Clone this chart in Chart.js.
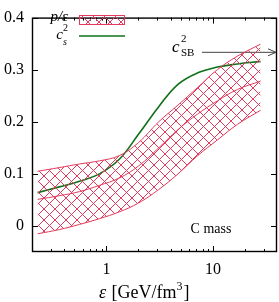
<!DOCTYPE html>
<html>
<head>
<meta charset="utf-8">
<script src="https://cdn.jsdelivr.net/npm/chart.js@4.4.1/dist/chart.umd.min.js"></script>
<style>
  html, body { margin: 0; padding: 0; background: #fff; }
  #wrap { width: 279px; height: 302px; }
</style>
</head>
<body>
<div id="wrap"><canvas id="cs-chart"></canvas></div>
<script>
// energy density grid (GeV/fm^3) shared by the band and the sound speed curve
const epsGrid = [0.226, 0.36, 0.56, 0.86, 1.32, 2.0, 3.1, 4.7, 7.2, 11, 17, 28];
// p/eps band: upper edge, lower edge and inner edge
const pUpper = [0.105, 0.112, 0.119, 0.125, 0.135, 0.160, 0.200, 0.232, 0.266, 0.300, 0.326, 0.349];
const pLower = [-0.015, -0.007, 0.003, 0.014, 0.027, 0.044, 0.070, 0.100, 0.135, 0.165, 0.195, 0.222];
const pMid   = [0.051, 0.058, 0.066, 0.078, 0.092, 0.115, 0.150, 0.185, 0.215, 0.240, 0.262, 0.278];
// squared speed of sound
const cs2    = [0.064, 0.075, 0.086, 0.100, 0.128, 0.176, 0.229, 0.272, 0.294, 0.305, 0.311, 0.316];
// Stefan-Boltzmann limit arrow
const sbEps = [7.9, 40];
const sbValue = 1 / 3;

const yTicks = [0, 0.1, 0.2, 0.3, 0.4];
const xTicks = [1, 10];
const xMinor = [0.3, 0.4, 0.5, 0.6, 0.7, 0.8, 0.9, 2, 3, 4, 5, 6, 7, 8, 9, 20, 30];

const pink = '#e23a5c';
const green = '#11701a';
const serif = "'Liberation Serif', 'DejaVu Serif', serif";

// cross hatch pattern
function hatch() {
    const c = document.createElement('canvas');
    c.width = 11; c.height = 11;
    const g = c.getContext('2d');
    g.strokeStyle = pink;
    g.lineWidth = 1;
    g.beginPath();
    g.moveTo(0, 0); g.lineTo(11, 11);
    g.moveTo(0, 11); g.lineTo(11, 0);
    g.stroke();
    return g.createPattern(c, 'repeat');
}
const hatchFill = hatch();

const pts = arr => arr.map((v, i) => ({x: epsGrid[i], y: v}));

// frame, inward ticks and annotations
const decor = {
    id: 'decor',
    afterDraw(chart) {
        const {ctx, chartArea: a, scales: {x, y}} = chart;
        ctx.save();
        ctx.strokeStyle = '#000';
        ctx.lineWidth = 1;
        ctx.beginPath();
        yTicks.forEach(v => {
            const py = Math.round(y.getPixelForValue(v)) + 0.5;
            ctx.moveTo(a.left, py); ctx.lineTo(a.left + 6, py);
            ctx.moveTo(a.right, py); ctx.lineTo(a.right - 6, py);
        });
        xTicks.forEach(v => {
            const px = Math.round(x.getPixelForValue(v)) + 0.5;
            ctx.moveTo(px, a.bottom); ctx.lineTo(px, a.bottom - 6);
            ctx.moveTo(px, a.top); ctx.lineTo(px, a.top + 6);
        });
        xMinor.forEach(v => {
            const px = Math.round(x.getPixelForValue(v)) + 0.5;
            ctx.moveTo(px, a.bottom); ctx.lineTo(px, a.bottom - 3);
            ctx.moveTo(px, a.top); ctx.lineTo(px, a.top + 3);
        });
        ctx.stroke();
        ctx.lineWidth = 1.4;
        ctx.strokeRect(a.left + 0.5, a.top + 0.5, a.right - a.left - 1, a.bottom - a.top - 1);

        // arrow head at the SB limit
        const tx = x.getPixelForValue(sbEps[1]) - 1;
        const ty = y.getPixelForValue(sbValue);
        ctx.strokeStyle = '#444';
        ctx.lineWidth = 1;
        ctx.beginPath();
        ctx.moveTo(tx - 8, ty - 3.5); ctx.lineTo(tx, ty); ctx.lineTo(tx - 8, ty + 3.5);
        ctx.stroke();

        ctx.fillStyle = '#000';
        ctx.textBaseline = 'alphabetic';
        ctx.textAlign = 'left';
        // c_SB^2 label
        ctx.font = 'italic 17px ' + serif;
        ctx.fillText('c', 172, 52);
        ctx.font = '11px ' + serif;
        ctx.fillText('2', 181, 42);
        ctx.fillText('SB', 181, 56);

        // legend
        ctx.font = 'italic 15px ' + serif;
        ctx.textAlign = 'right';
        ctx.fillText('p/\u03b5', 68, 21);
        ctx.fillText('c', 63, 39);
        ctx.textAlign = 'left';
        ctx.font = '10px ' + serif;
        ctx.fillText('2', 63, 31);
        ctx.font = 'italic 10px ' + serif;
        ctx.fillText('s', 63, 45);
        ctx.fillStyle = hatchFill;
        ctx.fillRect(79, 15, 45, 9);
        ctx.strokeStyle = pink;
        ctx.strokeRect(79.5, 15.5, 45, 9);
        ctx.strokeStyle = green;
        ctx.lineWidth = 1.6;
        ctx.beginPath();
        ctx.moveTo(79, 36); ctx.lineTo(125, 36);
        ctx.stroke();

        // C mass
        ctx.fillStyle = '#000';
        ctx.font = '14px ' + serif;
        ctx.textAlign = 'center';
        ctx.fillText('C mass', 211, 233);

        // x axis title
        ctx.textAlign = 'left';
        ctx.font = 'italic 18px ' + serif;
        ctx.fillText('\u03b5', 99, 298);
        ctx.font = '18px ' + serif;
        const t1 = ' [GeV/fm';
        ctx.fillText(t1, 107, 298);
        const w1 = ctx.measureText(t1).width;
        ctx.font = '12px ' + serif;
        ctx.fillText('3', 107 + w1, 290);
        ctx.font = '18px ' + serif;
        ctx.fillText(']', 107 + w1 + 7, 298);
        ctx.restore();
    }
};

new Chart(document.getElementById('cs-chart'), {
    type: 'line',
    data: {
        datasets: [
            {data: pts(pLower), borderColor: pink, borderWidth: 1, pointRadius: 0, fill: false, tension: 0.4},
            {data: pts(pUpper), borderColor: pink, borderWidth: 1, pointRadius: 0, fill: {target: 0}, backgroundColor: hatchFill, tension: 0.4},
            {data: pts(pMid), borderColor: pink, borderWidth: 1, pointRadius: 0, fill: false, tension: 0.4},
            {data: pts(cs2), borderColor: green, borderWidth: 1.6, pointRadius: 0, fill: false, tension: 0.4},
            {data: sbEps.map(e => ({x: e, y: sbValue})), borderColor: '#444', borderWidth: 1, pointRadius: 0, fill: false}
        ]
    },
    options: {
        responsive: true,
        maintainAspectRatio: false,
        animation: false,
        layout: {padding: {top: 7, right: 2, left: 0, bottom: 0}},
        plugins: {legend: {display: false}, tooltip: {enabled: false}},
        scales: {
            x: {
                type: 'logarithmic',
                min: 0.2,
                max: 40,
                grid: {display: false, drawTicks: false},
                border: {display: false},
                afterBuildTicks: s => { s.ticks = xTicks.map(v => ({value: v})); },
                afterFit: s => { s.height = 50; },
                ticks: {
                    color: '#000',
                    padding: 8,
                    maxRotation: 0,
                    font: {family: serif, size: 16},
                    callback: v => String(v)
                }
            },
            y: {
                min: -0.05,
                max: 0.4,
                grid: {display: false, drawTicks: false},
                border: {display: false},
                afterBuildTicks: s => { s.ticks = yTicks.map(v => ({value: v})); },
                afterFit: s => { s.width = 32; },
                ticks: {
                    color: '#000',
                    padding: 8,
                    font: {family: serif, size: 16},
                    callback: v => v === 0 ? '0' : v.toFixed(1)
                }
            }
        }
    },
    plugins: [decor]
});
</script>
</body>
</html>
